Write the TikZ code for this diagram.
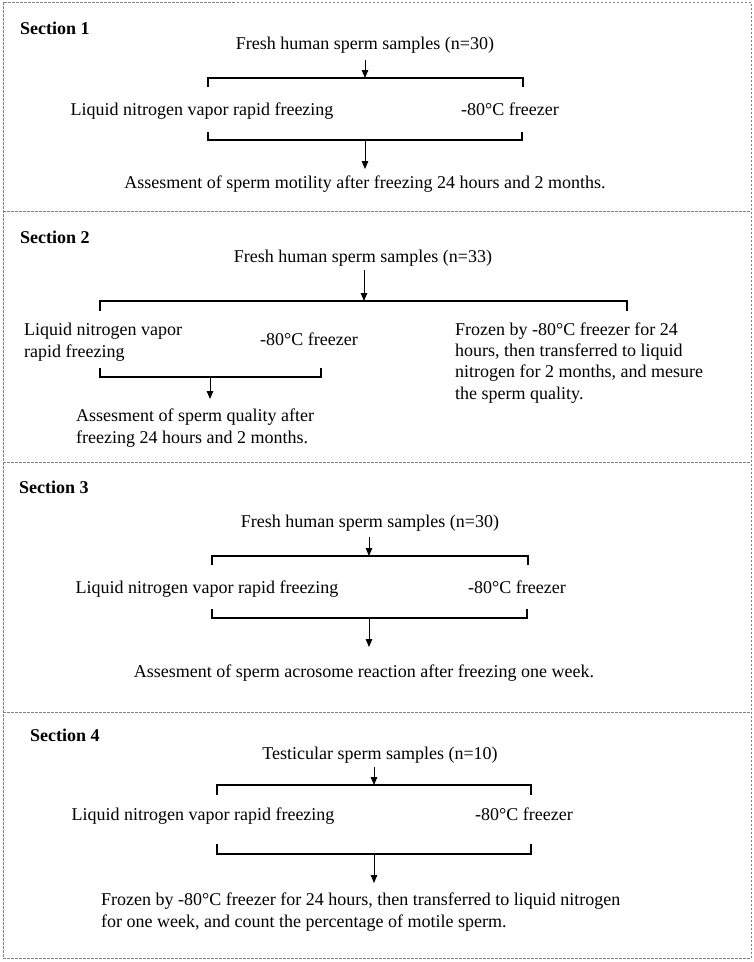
\documentclass[tikz,border=0pt]{standalone}
\usepackage{fontspec}
\setmainfont{Liberation Serif}
\usetikzlibrary{arrows.meta}
\begin{document}
\begin{tikzpicture}[x=1pt,y=-1pt,
  txt/.style={font=\fontsize{18}{21.3}\selectfont, inner sep=0pt},
  sec/.style={font=\fontsize{18}{21.3}\selectfont\bfseries, inner sep=0pt, anchor=base west},
  brk/.style={line width=1.5pt},
  arr/.style={line width=1pt,-{Triangle[length=8pt,width=6.5pt]}},
  frame/.style={draw=gray, line width=0.8pt, dash pattern=on 2.5pt off 1.5pt}]
\useasboundingbox (0,0) rectangle (754,962);
\draw[frame] (3,2) rectangle (751,958);
\draw[frame] (3,211) -- (751,211);
\draw[frame] (3,462) -- (751,462);
\draw[frame] (3,712) -- (751,712);

% Section 1
\node[sec] (h1) at (20,34) {Section 1};
\node[txt,anchor=base] (f1) at (365,49) {Fresh human sperm samples (n=30)};
\coordinate (a1) at (365,60);
\coordinate (t1) at (365,78);
\draw[arr] (a1) -- (t1);
\coordinate (b1l) at (208,78); \coordinate (b1r) at (523,78);
\draw[brk] ([yshift=-9pt]b1l) -- (b1l) -- (b1r) -- ([yshift=-9pt]b1r);
\node[txt,anchor=base] (l1) at (202,115) {Liquid nitrogen vapor rapid freezing};
\node[txt,anchor=base] (r1) at (510,115) {-80°C freezer};
\coordinate (c1l) at (208,140); \coordinate (c1r) at (522,140);
\draw[brk] ([yshift=8pt]c1l) -- (c1l) -- (c1r) -- ([yshift=8pt]c1r);
\coordinate (u1) at (365,140);
\coordinate (v1) at (365,169);
\draw[arr] (u1) -- (v1);
\node[txt,anchor=base] (e1) at (365,188) {Assesment of sperm motility after freezing 24 hours and 2 months.};

% Section 2
\node[sec] (h2) at (20,243) {Section 2};
\node[txt,anchor=base] (f2) at (363,262) {Fresh human sperm samples (n=33)};
\coordinate (a2) at (364,270);
\coordinate (t2) at (364,301);
\draw[arr] (a2) -- (t2);
\coordinate (b2l) at (100,301); \coordinate (b2r) at (627,301);
\draw[brk] ([yshift=-10pt]b2l) -- (b2l) -- (b2r) -- ([yshift=-10pt]b2r);
\node[txt,anchor=base west,align=left] (l2) at (24,357) {Liquid nitrogen vapor\\rapid freezing};
\node[txt,anchor=base] (r2) at (309,345) {-80°C freezer};
\node[txt,anchor=base west,align=left] (x2) at (455,399) {Frozen by -80°C freezer for 24\\hours, then transferred to liquid\\nitrogen for 2 months, and mesure\\the sperm quality.};
\coordinate (c2l) at (100,377); \coordinate (c2r) at (321,377);
\draw[brk] ([yshift=9pt]c2l) -- (c2l) -- (c2r) -- ([yshift=9pt]c2r);
\coordinate (u2) at (210,377);
\coordinate (v2) at (210,399);
\draw[arr] (u2) -- (v2);
\node[txt,anchor=base west,align=left] (e2) at (76,443) {Assesment of sperm quality after\\freezing 24 hours and 2 months.};

% Section 3
\node[sec] (h3) at (19,493) {Section 3};
\node[txt,anchor=base] (f3) at (370,527) {Fresh human sperm samples (n=30)};
\coordinate (a3) at (369,537);
\coordinate (t3) at (369,556);
\draw[arr] (a3) -- (t3);
\coordinate (b3l) at (212,556); \coordinate (b3r) at (528,556);
\draw[brk] ([yshift=-9pt]b3l) -- (b3l) -- (b3r) -- ([yshift=-9pt]b3r);
\node[txt,anchor=base] (l3) at (207,593) {Liquid nitrogen vapor rapid freezing};
\node[txt,anchor=base] (r3) at (517,593) {-80°C freezer};
\coordinate (c3l) at (212,618); \coordinate (c3r) at (527,618);
\draw[brk] ([yshift=9pt]c3l) -- (c3l) -- (c3r) -- ([yshift=9pt]c3r);
\coordinate (u3) at (369,618);
\coordinate (v3) at (369,647);
\draw[arr] (u3) -- (v3);
\node[txt,anchor=base] (e3) at (364,677) {Assesment of sperm acrosome reaction after freezing one week.};

% Section 4
\node[sec] (h4) at (30,741) {Section 4};
\node[txt,anchor=base] (f4) at (380,759) {Testicular sperm samples (n=10)};
\coordinate (a4) at (374,767);
\coordinate (t4) at (374,785);
\draw[arr] (a4) -- (t4);
\coordinate (b4l) at (217,785); \coordinate (b4r) at (531,785);
\draw[brk] ([yshift=-10pt]b4l) -- (b4l) -- (b4r) -- ([yshift=-10pt]b4r);
\node[txt,anchor=base] (l4) at (203,820) {Liquid nitrogen vapor rapid freezing};
\node[txt,anchor=base] (r4) at (524,820) {-80°C freezer};
\coordinate (c4l) at (217,854); \coordinate (c4r) at (531,854);
\draw[brk] ([yshift=10pt]c4l) -- (c4l) -- (c4r) -- ([yshift=10pt]c4r);
\coordinate (u4) at (374,854);
\coordinate (v4) at (374,883);
\draw[arr] (u4) -- (v4);
\node[txt,anchor=base west,align=left] (e4) at (101,927) {Frozen by -80°C freezer for 24 hours, then transferred to liquid nitrogen\\for one week, and count the percentage of motile sperm.};
\end{tikzpicture}
\end{document}
